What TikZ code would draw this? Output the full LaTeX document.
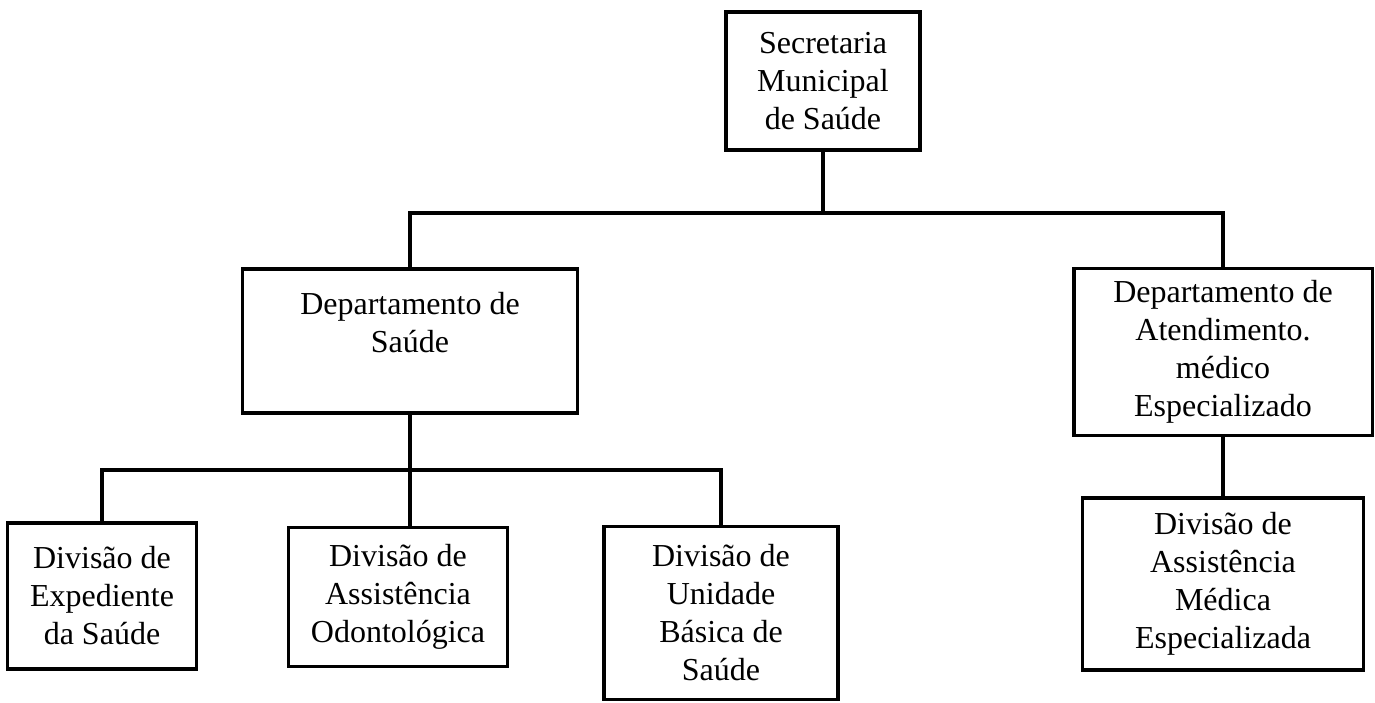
\documentclass[tikz,border=0pt]{standalone}
\usepackage{fontspec}
\setmainfont{Liberation Serif}
\begin{document}
\begin{tikzpicture}[x=0.01cm,y=-0.01cm,
	box/.style={draw,line width=0.9pt,align=center,inner sep=0pt,font=\fontsize{9.1}{10.8}\selectfont},
	conn/.style={line width=1.2pt}]
		\useasboundingbox[fill=white] (0,0) rectangle (1375,703);
		\node[box,minimum width=1.94cm,minimum height=1.38cm] (sec) at (823,81) {Secretaria\\Municipal\\de Saúde};
		\node[box,minimum width=3.35cm,minimum height=1.44cm] (dsaude) at (410,341) {Departamento de\\Saúde\\~};
		\node[box,minimum width=2.98cm,minimum height=1.67cm] (datend) at (1223,352) {Departamento de\\Atendimento.\\médico\\Especializado};
		\node[box,minimum width=1.89cm,minimum height=1.46cm] (dexp) at (102,596) {Divisão de\\Expediente\\da Saúde};
		\node[box,minimum width=2.19cm,minimum height=1.39cm] (dodont) at (398,597) {Divisão de\\Assistência\\Odontológica};
		\node[box,minimum width=2.34cm,minimum height=1.73cm] (dunid) at (721,613) {Divisão de\\Unidade\\Básica de\\Saúde};
		\node[box,minimum width=2.81cm,minimum height=1.72cm] (dmed) at (1223,584) {Divisão de\\Assistência\\Médica\\Especializada};
		\coordinate (top) at (823,213);
		\coordinate (mid) at (410,470);
		\draw[conn] (sec.south) -- (sec.south |- top);
		\draw[conn] (dsaude.north) |- (top) -| (datend.north);
		\draw[conn] (dsaude.south) -- (dsaude.south |- dodont.north);
		\draw[conn] (dexp.north) |- (mid) -| (dunid.north);
		\draw[conn] (datend.south) -- (dmed.north);
\end{tikzpicture}
\end{document}
